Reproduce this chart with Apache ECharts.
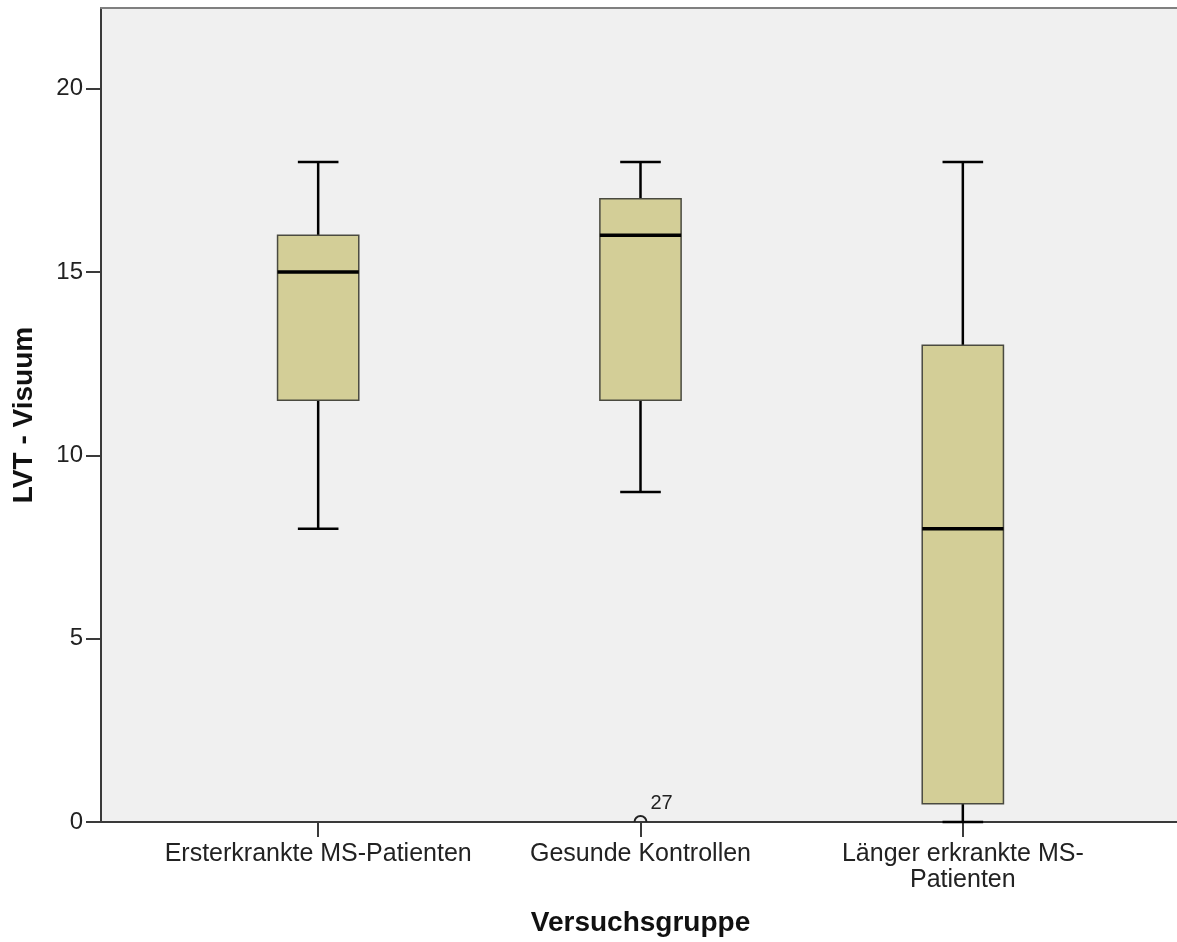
<!DOCTYPE html>
<html>
<head>
<meta charset="utf-8">
<script src="https://cdn.jsdelivr.net/npm/echarts@6/dist/echarts.min.js"></script>
<style>html,body{margin:0;padding:0;background:#fff}#c{width:1177px;height:942px}</style>
</head>
<body>
<div id="c"></div>
<script>
// ---- data ----
var categories = ['Ersterkrankte MS-Patienten', 'Gesunde Kontrollen', 'Länger erkrankte MS-\nPatienten'];
var whiskerLow = [8, 9, 0];
var q1 = [11.5, 11.5, 0.5];
var median = [15, 16, 8];
var q3 = [16, 17, 13];
var whiskerHigh = [18, 18, 18];
var outliers = [[1, 0, '27']];
var yTicks = [0, 5, 10, 15, 20];
var yMin = 0, yMax = 22.2;

var boxData = categories.map(function (c, i) {
  return [i, whiskerLow[i], q1[i], median[i], q3[i], whiskerHigh[i]];
});

var FONT = '"Liberation Sans", Arial, sans-serif';
var chart = echarts.init(document.getElementById('c'), null, {renderer: 'canvas'});

chart.setOption({
  animation: false,
  grid: [
    {left: 101, top: 8, right: -4, bottom: 120, show: true, backgroundColor: '#f0f0f0', borderWidth: 0},
    {left: 157, top: 8, right: 53, bottom: 120, show: false}
  ],
  xAxis: [
    {type: 'value', gridIndex: 0, min: 0, max: 1, position: 'bottom',
     axisLine: {show: true, lineStyle: {color: '#3a3a3a', width: 2}},
     axisTick: {show: false}, axisLabel: {show: false}, splitLine: {show: false}},
    {type: 'value', gridIndex: 0, min: 0, max: 1, position: 'top',
     axisLine: {show: true, lineStyle: {color: '#808080', width: 2}},
     axisTick: {show: false}, axisLabel: {show: false}, splitLine: {show: false}},
    {type: 'category', gridIndex: 1, data: categories, boundaryGap: true,
     axisLine: {show: false},
     axisTick: {show: true, interval: 0, alignWithLabel: true, length: 15, lineStyle: {color: '#3a3a3a', width: 2}},
     axisLabel: {interval: 0, color: '#222', fontFamily: FONT, fontSize: 25, margin: 19, lineHeight: 26},
     name: 'Versuchsgruppe', nameLocation: 'middle', nameGap: 87,
     nameTextStyle: {color: '#111', fontFamily: FONT, fontSize: 28, fontWeight: 'bold'}}
  ],
  yAxis: [
    {type: 'value', gridIndex: 0, min: yMin, max: yMax,
     axisLine: {show: true, lineStyle: {color: '#3a3a3a', width: 2}},
     axisTick: {show: true, length: 15, customValues: yTicks, lineStyle: {color: '#3a3a3a', width: 2}},
     axisLabel: {color: '#222', fontFamily: FONT, fontSize: 24, margin: 18, customValues: yTicks},
     splitLine: {show: false},
     name: 'LVT - Visuum', nameLocation: 'middle', nameGap: 63, nameRotate: 90,
     nameTextStyle: {color: '#111', fontFamily: FONT, fontSize: 28, fontWeight: 'bold'}},
    {type: 'value', gridIndex: 1, min: yMin, max: yMax, show: false}
  ],
  series: [
    {
      type: 'custom', xAxisIndex: 2, yAxisIndex: 1, data: boxData, z: 3,
      renderItem: function (params, api) {
        var x = api.value(0);
        var pLow = api.coord([x, api.value(1)]);
        var pQ1 = api.coord([x, api.value(2)]);
        var pMed = api.coord([x, api.value(3)]);
        var pQ3 = api.coord([x, api.value(4)]);
        var pHigh = api.coord([x, api.value(5)]);
        var band = api.size([1, 0])[0];
        var bw = band * 0.252;
        var cw = bw / 2;
        var cx = pMed[0];
        var black = {stroke: '#000', lineWidth: 2.5};
        return {
          type: 'group',
          children: [
            {type: 'line', shape: {x1: cx, y1: pQ3[1], x2: cx, y2: pHigh[1]}, style: black},
            {type: 'line', shape: {x1: cx, y1: pQ1[1], x2: cx, y2: pLow[1]}, style: black},
            {type: 'line', shape: {x1: cx - cw / 2, y1: pHigh[1], x2: cx + cw / 2, y2: pHigh[1]}, style: black},
            {type: 'line', shape: {x1: cx - cw / 2, y1: pLow[1], x2: cx + cw / 2, y2: pLow[1]}, style: black},
            {type: 'rect', shape: {x: cx - bw / 2, y: pQ3[1], width: bw, height: pQ1[1] - pQ3[1]},
             style: {fill: '#d3ce97', stroke: '#4a4a40', lineWidth: 1.5}},
            {type: 'line', shape: {x1: cx - bw / 2, y1: pMed[1], x2: cx + bw / 2, y2: pMed[1]},
             style: {stroke: '#000', lineWidth: 3.5}}
          ]
        };
      }
    },
    {
      type: 'custom', xAxisIndex: 2, yAxisIndex: 1, data: outliers, z: 2, clip: true,
      renderItem: function (params, api) {
        var p = api.coord([api.value(0), api.value(1)]);
        return {
          type: 'group',
          children: [
            {type: 'circle', shape: {cx: p[0], cy: p[1], r: 6},
             style: {fill: 'none', stroke: '#222', lineWidth: 2}},
            {type: 'text', x: p[0] + 10, y: p[1] - 9,
             style: {text: outliers[params.dataIndex][2], fill: '#222', font: '20px ' + FONT,
                     textAlign: 'left', textVerticalAlign: 'bottom'}}
          ]
        };
      }
    }
  ]
});
</script>
</body>
</html>
